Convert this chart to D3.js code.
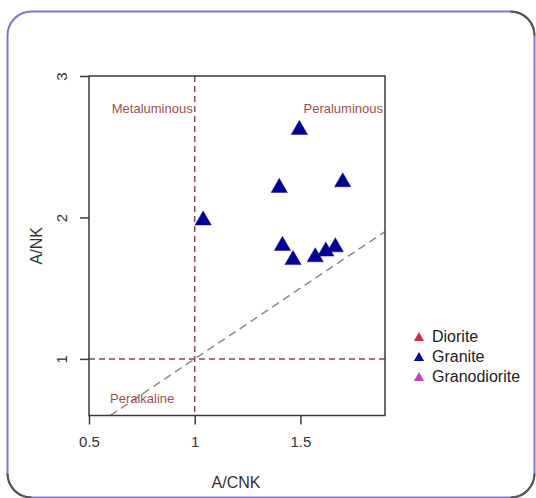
<!DOCTYPE html>
<html>
<head>
<meta charset="utf-8">
<script src="https://cdn.jsdelivr.net/npm/d3@7"></script>
<style>
  html, body { margin: 0; padding: 0; background: #ffffff; }
  svg { display: block; font-family: "Liberation Sans", Arial, sans-serif; }
</style>
</head>
<body>
<svg id="chart" width="536" height="498"></svg>
<script>
// Shand's index diagram: A/NK vs A/CNK
const granite_acnk = [1.04, 1.40, 1.415, 1.465, 1.495, 1.57, 1.62, 1.665, 1.70];
const granite_ank  = [1.98, 2.21, 1.80, 1.70, 2.62, 1.72, 1.76, 1.79, 2.25];
const diorite_acnk = [];
const diorite_ank = [];
const granodiorite_acnk = [];
const granodiorite_ank = [];

const xTicks = [0.5, 1, 1.5];
const yTicks = [1, 2, 3];
const legendNames = ["Diorite", "Granite", "Granodiorite"];
const legendColors = ["#d0303a", "#00009a", "#c040c8"];
const fieldLabels = ["Metaluminous", "Peraluminous", "Peralkaline"];

const svg = d3.select("#chart");

// outer rounded frame
svg.append("rect")
  .attr("x", 7.5).attr("y", 11.5)
  .attr("width", 527).attr("height", 486)
  .attr("rx", 24).attr("ry", 24)
  .attr("fill", "#ffffff")
  .attr("stroke", "#7a78cf")
  .attr("stroke-width", 2);
// darker corners
svg.append("path")
  .attr("d", "M7.5,473.5 A24,24 0 0 0 31.5,497.5")
  .attr("fill", "none").attr("stroke", "#555").attr("stroke-width", 2);
svg.append("path")
  .attr("d", "M510.5,11.5 A24,24 0 0 1 534.5,35.5")
  .attr("fill", "none").attr("stroke", "#555").attr("stroke-width", 2);
svg.append("path")
  .attr("d", "M534.5,473.5 A24,24 0 0 1 510.5,497.5")
  .attr("fill", "none").attr("stroke", "#555").attr("stroke-width", 2);

const x = d3.scaleLinear().domain([0.5, 1.9]).range([89, 385]);
const y = d3.scaleLinear().domain([0.6, 3]).range([415.5, 76]);

const g = svg.append("g");

// reference lines
const brown = "#8a4a4a";
g.append("line")
  .attr("x1", x(1)).attr("x2", x(1))
  .attr("y1", y(3)).attr("y2", y(0.6))
  .attr("stroke", brown).attr("stroke-width", 1.5)
  .attr("stroke-dasharray", "6,4");
g.append("line")
  .attr("x1", x(0.5)).attr("x2", x(1.9))
  .attr("y1", y(1)).attr("y2", y(1))
  .attr("stroke", brown).attr("stroke-width", 1.5)
  .attr("stroke-dasharray", "6,4");
g.append("line")
  .attr("x1", x(0.6)).attr("x2", x(1.9))
  .attr("y1", y(0.6)).attr("y2", y(1.9))
  .attr("stroke", "#8f8a85").attr("stroke-width", 1.5)
  .attr("stroke-dasharray", "8,5");

// field labels
const labelColor = "#9a5050";
g.append("text").text(fieldLabels[0])
  .attr("x", x(1) - 2).attr("y", 113)
  .attr("text-anchor", "end").attr("font-size", 13).attr("fill", labelColor);
g.append("text").text(fieldLabels[1])
  .attr("x", x(1.9) - 2).attr("y", 113)
  .attr("text-anchor", "end").attr("font-size", 13).attr("fill", labelColor);
g.append("text").text(fieldLabels[2])
  .attr("x", 110).attr("y", 403)
  .attr("text-anchor", "start").attr("font-size", 13).attr("fill", labelColor);

// plot box
g.append("rect")
  .attr("x", x(0.5)).attr("y", y(3))
  .attr("width", x(1.9) - x(0.5)).attr("height", y(0.6) - y(3))
  .attr("fill", "none").attr("stroke", "#3a3a3a").attr("stroke-width", 1.5);

// axes
const xAxis = d3.axisBottom(x).tickValues(xTicks).tickSize(9).tickPadding(12)
  .tickFormat(d3.format("~g"));
const gx = g.append("g").attr("transform", `translate(0,${y(0.6)})`).call(xAxis);
gx.select(".domain").remove();
gx.selectAll("line").attr("stroke", "#3a3a3a").attr("stroke-width", 1.5);
gx.selectAll("text").attr("font-size", 15).attr("fill", "#333")
  .attr("font-family", "Liberation Sans, Arial, sans-serif");

const yAxis = d3.axisLeft(y).tickValues(yTicks).tickSize(9).tickPadding(0)
  .tickFormat(d3.format("~g"));
const gy = g.append("g").attr("transform", `translate(${x(0.5)},0)`).call(yAxis);
gy.select(".domain").remove();
gy.selectAll("line").attr("stroke", "#3a3a3a").attr("stroke-width", 1.5);
gy.selectAll("text")
  .attr("font-size", 15).attr("fill", "#333")
  .attr("font-family", "Liberation Sans, Arial, sans-serif")
  .attr("x", 0).attr("dy", null)
  .attr("transform", "translate(-26,0) rotate(-90)")
  .attr("text-anchor", "middle")
  .attr("dominant-baseline", "middle");

// axis titles
svg.append("text").text("A/CNK")
  .attr("x", 236).attr("y", 488)
  .attr("text-anchor", "middle").attr("font-size", 16).attr("fill", "#333");
svg.append("text").text("A/NK")
  .attr("transform", `translate(42,${(y(3) + y(0.6)) / 2}) rotate(-90)`)
  .attr("text-anchor", "middle").attr("font-size", 16).attr("fill", "#333");

// data points
const tri = d3.symbol().type(d3.symbolTriangle).size(115);
function drawSeries(xs, ys, color) {
  g.selectAll(null)
    .data(xs.map((v, i) => [v, ys[i]]))
    .enter().append("path")
    .attr("d", tri)
    .attr("transform", d => `translate(${x(d[0])},${y(d[1])})`)
    .attr("fill", color)
    .attr("stroke", "#1a1a60").attr("stroke-width", 0.5);
}
drawSeries(diorite_acnk, diorite_ank, legendColors[0]);
drawSeries(granite_acnk, granite_ank, legendColors[1]);
drawSeries(granodiorite_acnk, granodiorite_ank, legendColors[2]);

// legend
const legY = [338, 358, 378];
const smallTri = d3.symbol().type(d3.symbolTriangle).size(45);
legendNames.forEach((name, i) => {
  svg.append("path").attr("d", smallTri)
    .attr("transform", `translate(419,${legY[i]})`)
    .attr("fill", legendColors[i]);
  svg.append("text").text(name)
    .attr("x", 432).attr("y", legY[i])
    .attr("dominant-baseline", "middle")
    .attr("font-size", 16).attr("fill", "#222");
});
</script>
</body>
</html>
